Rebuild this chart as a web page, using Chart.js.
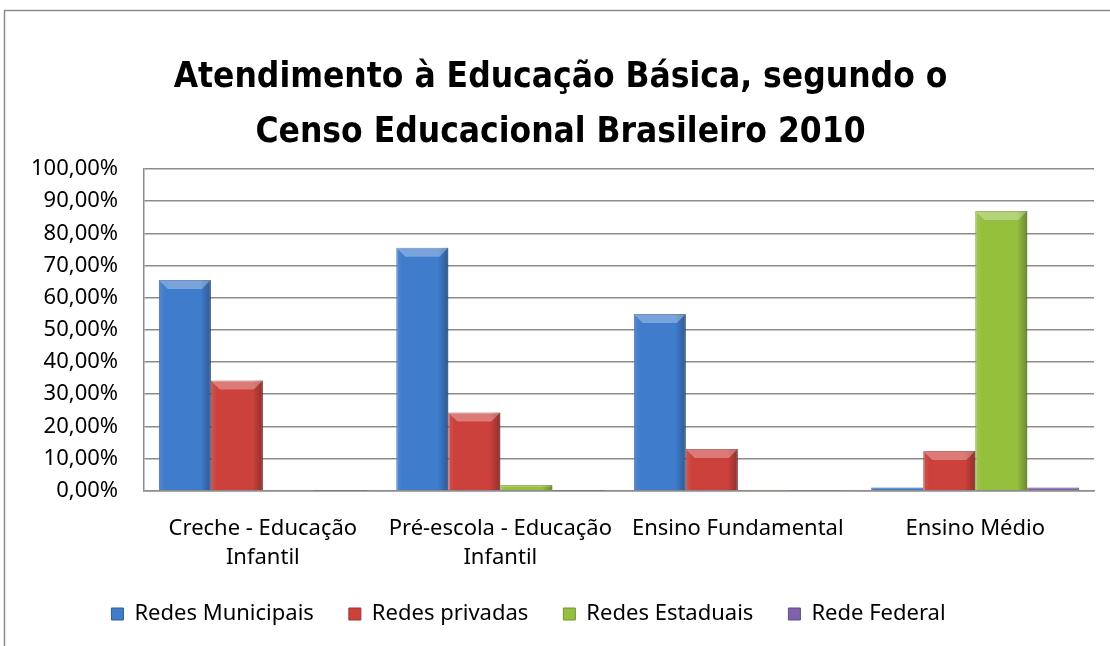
<!DOCTYPE html>
<html>
<head>
<meta charset="utf-8">
<script src="https://cdn.jsdelivr.net/npm/chart.js@4.4.0/dist/chart.umd.min.js"></script>
<style>
  html, body { margin: 0; padding: 0; background: #fff; }
  #wrap { width: 1110px; height: 646px; position: relative; }
</style>
</head>
<body>
<div id="wrap"><canvas id="censoChart" width="1110" height="646"></canvas></div>
<script>
'use strict';

// categorias e séries (valores em %)
var categorias = [
  ['Creche - Educação', 'Infantil'],
  ['Pré-escola - Educação', 'Infantil'],
  'Ensino Fundamental',
  'Ensino Médio'
];
var redesMunicipais = [65.5, 75.5, 54.9, 1.0];
var redesPrivadas   = [34.3, 24.3, 13.0, 12.4];
var redesEstaduais  = [0.2, 1.8, 0.1, 86.9];
var redeFederal     = [0.05, 0.05, 0.1, 1.0];
var tickValores     = [0, 10, 20, 30, 40, 50, 60, 70, 80, 90, 100];

var fonteTitulo = "'DejaVu Sans Condensed', sans-serif";
var fonte = "'Noto Sans', 'DejaVu Sans', sans-serif";

// moldura externa do gráfico
var moldura = {
  id: 'moldura',
  beforeDraw: function (chart) {
    var c = chart.ctx;
    c.save();
    c.fillStyle = '#fff';
    c.fillRect(0, 0, chart.width, chart.height);
    c.strokeStyle = '#8c8c8c';
    c.lineWidth = 1.5;
    c.beginPath();
    c.moveTo(4.5, chart.height);
    c.lineTo(4.5, 10.5);
    c.lineTo(chart.width, 10.5);
    c.stroke();
    c.restore();
  }
};

// empurra título e legenda um pouco, como no original
var ajuste = {
  id: 'ajuste',
  afterLayout: function (chart) {
    if (chart.titleBlock) { chart.titleBlock.left += 11; chart.titleBlock.right += 11; }
    if (chart.legend) { chart.legend.left -= 21; chart.legend.right -= 21; }
  }
};

// efeito chanfrado das barras
var chanfro = {
  id: 'chanfro',
  afterDatasetsDraw: function (chart) {
    var c = chart.ctx;
    chart.data.datasets.forEach(function (ds, i) {
      chart.getDatasetMeta(i).data.forEach(function (bar) {
        var p = bar.getProps(['x', 'y', 'base', 'width'], true);
        var x0 = p.x - p.width / 2, x1 = p.x + p.width / 2;
        var h = p.base - p.y;
        if (h < 4) return;
        var b = Math.min(9, h / 3);
        c.save();
        var g = c.createLinearGradient(x0, 0, x1, 0);
        g.addColorStop(0, 'rgba(255,255,255,0.10)');
        g.addColorStop(0.12, 'rgba(255,255,255,0)');
        g.addColorStop(0.8, 'rgba(0,0,0,0)');
        g.addColorStop(1, 'rgba(0,0,0,0.28)');
        c.fillStyle = g;
        c.fillRect(x0, p.y, p.width, h);
        c.fillStyle = 'rgba(255,255,255,0.30)';
        c.beginPath();
        c.moveTo(x0, p.y);
        c.lineTo(x1, p.y);
        c.lineTo(x1 - b, p.y + b);
        c.lineTo(x0 + b, p.y + b);
        c.closePath();
        c.fill();
        c.restore();
      });
    });
  }
};

function serie(nome, valores, cor, borda) {
  return {
    label: nome,
    data: valores,
    backgroundColor: cor,
    borderColor: borda,
    borderWidth: 1,
    categoryPercentage: 0.876,
    barPercentage: 1.0
  };
}

var ctx = document.getElementById('censoChart').getContext('2d');
var censoChart = new Chart(ctx, {
  type: 'bar',
  data: {
    labels: categorias,
    datasets: [
      serie('Redes Municipais', redesMunicipais, '#3f7ccc', '#2f5f9c'),
      serie('Redes privadas', redesPrivadas, '#cc413c', '#a33230'),
      serie('Redes Estaduais', redesEstaduais, '#95c03e', '#73952f'),
      serie('Rede Federal', redeFederal, '#8061ad', '#634a88')
    ]
  },
  plugins: [moldura, ajuste, chanfro],
  options: {
    responsive: false,
    animation: false,
    layout: { padding: { left: 5, right: 16, top: 14, bottom: 11 } },
    plugins: {
      title: {
        display: true,
        text: ['Atendimento à Educação Básica, segundo o', 'Censo Educacional Brasileiro 2010'],
        color: '#000',
        font: { family: fonteTitulo, size: 35, weight: 'bold', lineHeight: 1.57 },
        padding: { top: 36, bottom: 9 }
      },
      legend: {
        position: 'bottom',
        labels: {
          color: '#000',
          font: { family: fonte, size: 22 },
          boxWidth: 12,
          boxHeight: 12,
          padding: 35
        }
      },
      tooltip: { enabled: false }
    },
    scales: {
      x: {
        grid: { display: false, drawTicks: false },
        border: { display: true, color: '#8c8c8c', width: 1.5 },
        ticks: {
          color: '#000',
          font: { family: fonte, size: 22, lineHeight: 1.3 },
          maxRotation: 0,
          autoSkip: false,
          padding: 24
        },
        afterFit: function (scale) {
          scale.height -= 28;
        }
      },
      y: {
        min: 0,
        max: 100,
        afterBuildTicks: function (axis) {
          axis.ticks = tickValores.map(function (v) { return { value: v }; });
        },
        grid: { color: '#8c8c8c', lineWidth: 1.5, drawTicks: false },
        border: { display: true, color: '#8c8c8c', width: 1.5 },
        ticks: {
          color: '#000',
          font: { family: fonte, size: 22 },
          padding: 26,
          callback: function (v) {
            return v.toFixed(2).replace('.', ',') + '%';
          }
        }
      }
    }
  }
});
</script>
</body>
</html>
